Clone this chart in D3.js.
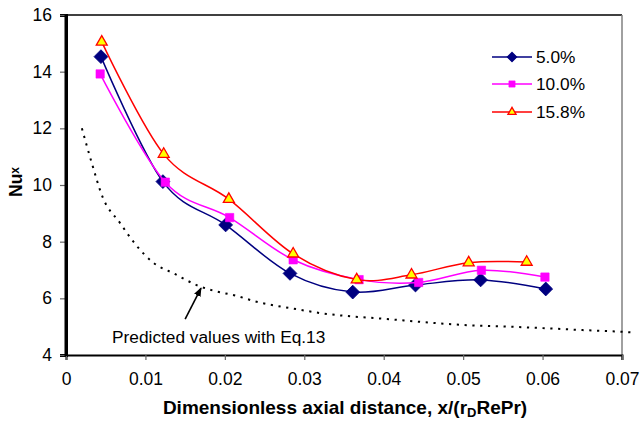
<!DOCTYPE html>
<html>
<head>
<meta charset="utf-8">
<script src="https://cdn.jsdelivr.net/npm/d3@7"></script>
<style>
  body { margin: 0; background: #fff; }
  svg { display: block; }
  text { font-family: "Liberation Sans", Arial, Helvetica, sans-serif; fill: #000; }
</style>
</head>
<body>
<svg id="chart" width="640" height="421"></svg>
<script>
// Axis ticks
const xTicks = [0, 0.01, 0.02, 0.03, 0.04, 0.05, 0.06, 0.07];
const yTicks = [4, 6, 8, 10, 12, 14, 16];

// Measured local Nusselt numbers for three concentrations
const seriesNames = ["5.0%", "10.0%", "15.8%"];
const x5  = [0.0044, 0.0122, 0.0201, 0.0282, 0.0361, 0.0440, 0.0522, 0.0604];
const nu5 = [14.53, 10.12, 8.59, 6.88, 6.22, 6.47, 6.65, 6.33];
const x10  = [0.0043, 0.0125, 0.0206, 0.0286, 0.0369, 0.0444, 0.0523, 0.0603];
const nu10 = [13.92, 10.10, 8.85, 7.36, 6.66, 6.56, 6.99, 6.75];
const x15  = [0.0045, 0.0123, 0.0205, 0.0286, 0.0366, 0.0435, 0.0507, 0.0580];
const nu15 = [15.05, 11.09, 9.50, 7.57, 6.66, 6.83, 7.26, 7.28];

// Predicted curve (Eq. 13)
const predX = [0.0020, 0.0032, 0.0046, 0.0068, 0.0087, 0.0109, 0.0137, 0.0166, 0.0187, 0.0213, 0.0240, 0.0290, 0.0320, 0.0360, 0.0400, 0.0450, 0.0500, 0.0550, 0.0600, 0.0650, 0.0700, 0.0712];
const predY = [12.0, 10.82, 9.58, 8.66, 7.92, 7.28, 6.86, 6.45, 6.26, 6.10, 5.88, 5.62, 5.48, 5.36, 5.28, 5.16, 5.06, 5.01, 4.95, 4.88, 4.82, 4.80];

const annotationText = "Predicted values with Eq.13";
const xTitle = "Dimensionless axial distance, x/(r";
const xTitleSub = "D";
const xTitleEnd = "RePr)";

const svg = d3.select("#chart");
const plotLeft = 66, plotRight = 622, plotTop = 15, plotBottom = 355;

const x = d3.scaleLinear().domain([0, 0.07]).range([plotLeft, plotRight]);
const y = d3.scaleLinear().domain([4, 16]).range([plotBottom, plotTop]);

// Plot frame: top (black) and right (gray)
svg.append("line").attr("x1", plotLeft - 6).attr("x2", plotRight).attr("y1", plotTop).attr("y2", plotTop)
  .attr("stroke", "#000").attr("stroke-width", 1.5);
svg.append("line").attr("x1", plotRight).attr("x2", plotRight).attr("y1", plotTop).attr("y2", plotBottom + 5)
  .attr("stroke", "#808080").attr("stroke-width", 1.5);

// Y axis
const yAxis = svg.append("g").attr("transform", `translate(${plotLeft},0)`)
  .call(d3.axisLeft(y).tickValues(yTicks).tickFormat(d3.format("d")).tickSize(6).tickPadding(8));
yAxis.select(".domain").attr("stroke", "#000").attr("stroke-width", 3);
yAxis.selectAll(".tick line").attr("stroke", "#666").attr("stroke-width", 1.2);
yAxis.selectAll(".tick text").attr("font-size", 17.5).attr("fill", "#000")
  .style("font-family", "'Liberation Sans', Arial, sans-serif");

// X axis
const xAxis = svg.append("g").attr("transform", `translate(0,${plotBottom})`)
  .call(d3.axisBottom(x).tickValues(xTicks).tickFormat(d => d === 0 ? "0" : d3.format(".2f")(d)).tickSize(5).tickPadding(13));
xAxis.select(".domain").attr("stroke", "#000").attr("stroke-width", 2);
xAxis.selectAll(".tick line").attr("stroke", "#666").attr("stroke-width", 1.2);
xAxis.selectAll(".tick text").attr("font-size", 17.5).attr("fill", "#000")
  .style("font-family", "'Liberation Sans', Arial, sans-serif");

// Re-draw the left spine on top so it stays crisp
svg.append("line").attr("x1", plotLeft).attr("x2", plotLeft).attr("y1", plotTop).attr("y2", plotBottom + 1)
  .attr("stroke", "#000").attr("stroke-width", 3);

// Predicted curve, dotted black
const predLine = d3.line().x(d => x(d[0])).y(d => y(d[1])).curve(d3.curveMonotoneX);
svg.append("path")
  .datum(d3.zip(predX, predY))
  .attr("d", predLine)
  .attr("fill", "none")
  .attr("stroke", "#000")
  .attr("stroke-width", 2)
  .attr("stroke-dasharray", "2.2,5.6");

// Arrow pointing to the predicted curve
svg.append("defs").append("marker")
  .attr("id", "arrowhead").attr("viewBox", "0 0 10 10")
  .attr("refX", 9).attr("refY", 5)
  .attr("markerWidth", 9).attr("markerHeight", 9)
  .attr("markerUnits", "userSpaceOnUse")
  .attr("orient", "auto")
  .append("path").attr("d", "M0,1 L10,5 L0,9 Z").attr("fill", "#000");
svg.append("line")
  .attr("x1", x(0.0150)).attr("y1", y(5.27))
  .attr("x2", x(0.0170)).attr("y2", y(6.36))
  .attr("stroke", "#000").attr("stroke-width", 1.6)
  .attr("marker-end", "url(#arrowhead)");

svg.append("text")
  .attr("x", x(0.0058)).attr("y", y(4.42))
  .attr("font-size", 17.3)
  .text(annotationText);

// Series lines and markers
const series = [
  { name: seriesNames[0], xs: x5,  ys: nu5,  color: "#000080", shape: "diamond" },
  { name: seriesNames[1], xs: x10, ys: nu10, color: "#ff00ff", shape: "square" },
  { name: seriesNames[2], xs: x15, ys: nu15, color: "#ff0000", shape: "triangle" }
];

const smooth = d3.line().x(d => x(d[0])).y(d => y(d[1])).curve(d3.curveCatmullRom.alpha(0));

function drawMarker(g, shape, color, cx, cy, scale) {
  if (shape === "diamond") {
    g.append("path")
      .attr("d", d3.symbol().type(d3.symbolSquare).size(95 * scale)())
      .attr("transform", `translate(${cx},${cy}) rotate(45)`)
      .attr("fill", color).attr("stroke", color).attr("stroke-width", 0.8);
  } else if (shape === "square") {
    g.append("path")
      .attr("d", d3.symbol().type(d3.symbolSquare).size(70 * scale)())
      .attr("transform", `translate(${cx},${cy})`)
      .attr("fill", color).attr("stroke", color).attr("stroke-width", 0.6);
  } else {
    g.append("path")
      .attr("d", d3.symbol().type(d3.symbolTriangle).size(52 * scale)())
      .attr("transform", `translate(${cx},${cy})`)
      .attr("fill", "#ffff00").attr("stroke", "#ff0000").attr("stroke-width", 1.3);
  }
}

series.forEach(s => {
  const g = svg.append("g");
  const pts = d3.zip(s.xs, s.ys);
  g.append("path").datum(pts).attr("d", smooth)
    .attr("fill", "none").attr("stroke", s.color).attr("stroke-width", 1.5);
  pts.forEach(p => drawMarker(g, s.shape, s.color, x(p[0]), y(p[1]), 1));
});

// Legend
const legend = svg.append("g");
const legendY = [57, 84, 112];
series.forEach((s, i) => {
  const ly = legendY[i];
  legend.append("line").attr("x1", 492).attr("x2", 532).attr("y1", ly).attr("y2", ly)
    .attr("stroke", s.color).attr("stroke-width", 1.5);
  drawMarker(legend, s.shape, s.color, 512, ly, 0.55);
  legend.append("text").attr("x", 536).attr("y", ly).attr("dy", "0.35em")
    .attr("font-size", 17.3).text(s.name);
});

// Axis titles
const xt = svg.append("text")
  .attr("x", 345).attr("y", 414)
  .attr("text-anchor", "middle")
  .attr("font-size", 19).attr("font-weight", "bold");
xt.append("tspan").text(xTitle);
xt.append("tspan").attr("font-size", 13).attr("dy", 3).text(xTitleSub);
xt.append("tspan").attr("dy", -3).text(xTitleEnd);

const yt = svg.append("text")
  .attr("transform", "translate(22,182) rotate(-90)")
  .attr("text-anchor", "middle")
  .attr("font-size", 17.5).attr("font-weight", "bold");
yt.append("tspan").text("Nu");
yt.append("tspan").attr("font-size", 12).attr("dy", -3).text("x");
</script>
</body>
</html>
